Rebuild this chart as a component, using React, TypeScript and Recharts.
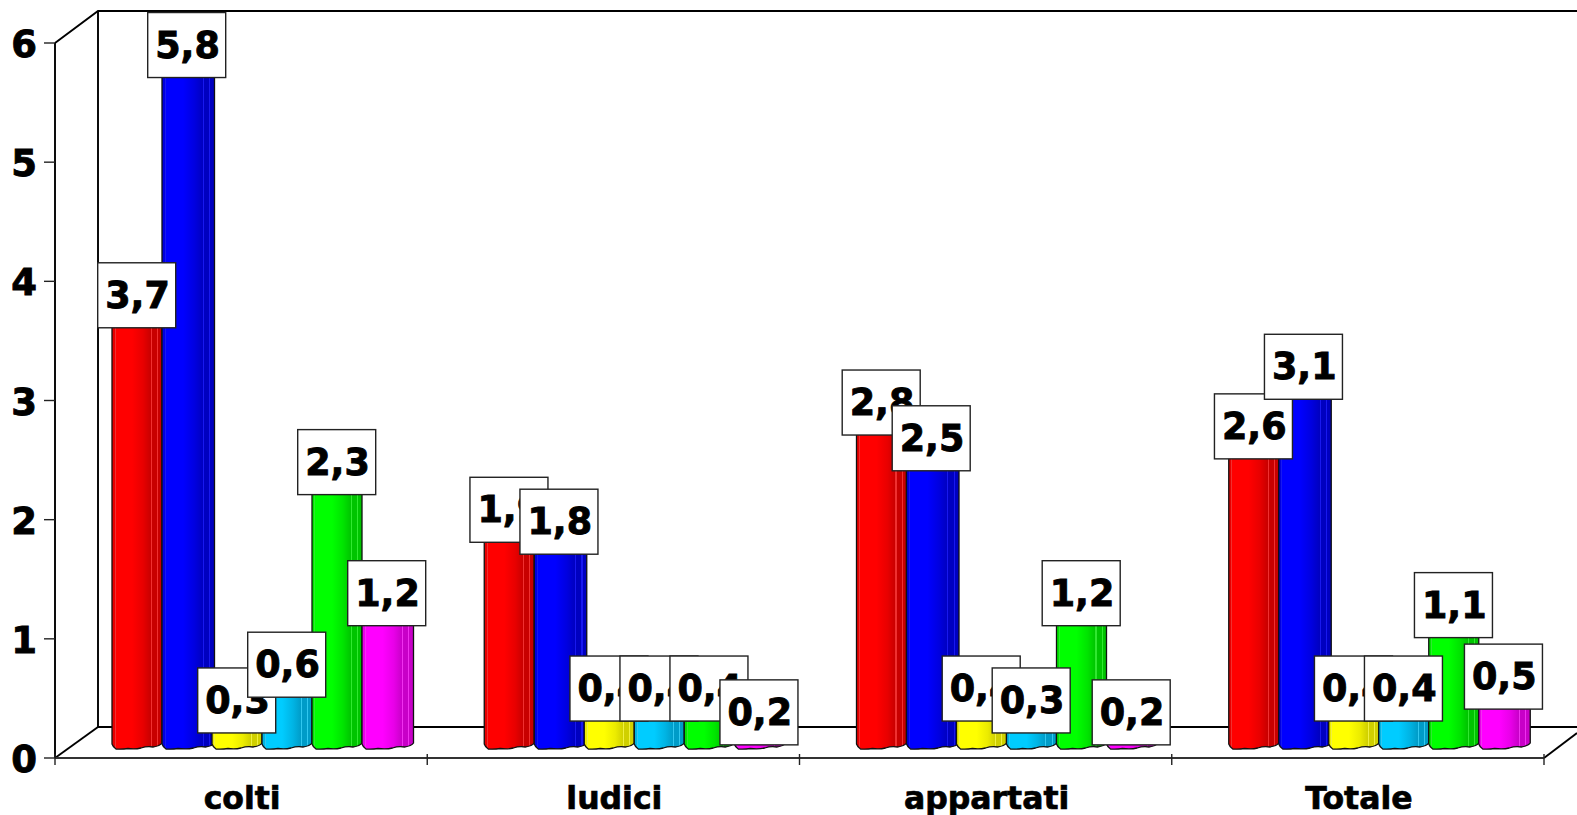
import React from 'react';
import { BarChart, Bar, XAxis, YAxis, LabelList } from 'recharts';

const categories = ['colti', 'ludici', 'appartati', 'Totale'];
const rosso = [3.7, 1.9, 2.8, 2.6];
const blu = [5.8, 1.8, 2.5, 3.1];
const giallo = [0.3, 0.4, 0.4, 0.4];
const azzurro = [0.6, 0.4, 0.3, 0.4];
const verde = [2.3, 0.4, 1.2, 1.1];
const magenta = [1.2, 0.2, 0.2, 0.5];
const yTicks = [0, 1, 2, 3, 4, 5, 6];

const data = categories.map((name, i) => ({
  name,
  rosso: rosso[i],
  blu: blu[i],
  giallo: giallo[i],
  azzurro: azzurro[i],
  verde: verde[i],
  magenta: magenta[i],
}));

const FONT = '"DejaVu Sans", Verdana, sans-serif';
const BAND = 372.25;

// pseudo 3D offsets, the bars stand halfway into the floor
const SHIFT_X = 20;
const SHIFT_Y = -21;

// bright, mid, dark tone and highlight stripe of each cylinder
const tones: Record<string, string[]> = {
  rosso: ['#ff0000', '#e80000', '#c80000', '#f03030'],
  blu: ['#0000ff', '#0000e0', '#0000c0', '#1818f0'],
  giallo: ['#ffff00', '#ecec00', '#d0d000', '#f0f040'],
  azzurro: ['#00ccff', '#00b4e4', '#009cc8', '#30c8f0'],
  verde: ['#00ff00', '#00e400', '#00c400', '#30e830'],
  magenta: ['#ff00ff', '#e800e8', '#c800c8', '#f030f0'],
};
const seriesKeys = Object.keys(tones);

const Cylinder = (props: any) => {
  const { x, y, width, height, dataKey } = props;
  const left = x + SHIFT_X;
  const right = left + width + (dataKey === 'blu' ? 2.5 : dataKey === 'magenta' ? 1.5 : 0);
  const top = y + SHIFT_Y;
  const bottom = y + height - 9;
  const d = [
    `M${left},${top}`,
    `L${right},${top}`,
    `L${right},${bottom - 6}`,
    `Q${right - 2},${bottom - 3} ${right - 9},${bottom - 2}`,
    `Q${right - 15},${bottom - 3} ${right - 21},${bottom - 1}`,
    `Q${right - 27},${bottom + 0.5} ${left + 16},${bottom - 0.5}`,
    `Q${left + 10},${bottom + 0.5} ${left + 4},${bottom}`,
    `Q${left + 1},${bottom - 2} ${left},${bottom - 5}`,
    'Z',
  ].join(' ');
  return <path d={d} fill={`url(#cyl-${dataKey})`} stroke="#111" strokeWidth={1.3} />;
};

const ValueBox = (props: any) => {
  const { x, y, width, value } = props;
  const cx = x + width / 2 + SHIFT_X - 0.3;
  const cy = y + SHIFT_Y - 0.8;
  return (
    <g>
      <rect x={cx - 39} y={cy - 32.5} width={78} height={65} fill="#fff" stroke="#222" strokeWidth={1.4} />
      <text
        x={cx + 0.8}
        y={cy + 12.5}
        textAnchor="middle"
        fontFamily={FONT}
        fontWeight="bold"
        fontSize={36.5}
        fill="#000"
        stroke="#000"
        strokeWidth={0.9}
      >
        {String(value).replace('.', ',')}
      </text>
    </g>
  );
};

const CategoryTick = (props: any) => {
  const { x, y, payload, index } = props;
  return (
    <g>
      <line x1={x - BAND / 2} y1={y - 10} x2={x - BAND / 2} y2={y + 1} stroke="#222" strokeWidth={1.4} />
      {index === categories.length - 1 && (
        <line x1={x + BAND / 2} y1={y - 10} x2={x + BAND / 2} y2={y + 1} stroke="#222" strokeWidth={1.4} />
      )}
      <text
        x={x + 1}
        y={y + 45}
        textAnchor="middle"
        fontFamily={FONT}
        fontWeight="bold"
        fontSize={31.5}
        fill="#000"
        stroke="#000"
        strokeWidth={0.7}
      >
        {payload.value}
      </text>
    </g>
  );
};

const ValueTick = (props: any) => {
  const { x, y, payload } = props;
  return (
    <text
      x={x - 1}
      y={y + 14}
      textAnchor="end"
      fontFamily={FONT}
      fontWeight="bold"
      fontSize={37}
      fill="#000"
      stroke="#000"
      strokeWidth={0.9}
    >
      {payload.value}
    </text>
  );
};

const Frame = () => (
  <g stroke="#000" strokeWidth={1.9} fill="none">
    <path d="M55,43 L98,11 L1577,11" />
    <path d="M98,11 L98,727 L1577,727" />
    <path d="M55,758 L98,727" />
    <path d="M1544,758 L1577,733" />
  </g>
);

const App = () => (
  <div style={{ position: 'absolute', left: 0, top: 0 }}>
    <BarChart
      width={1577}
      height={815}
      data={data}
      margin={{ top: 43, right: 33, bottom: 0, left: 0 }}
      barCategoryGap={37}
      barGap={0}
    >
      <defs>
        {seriesKeys.map((k) => (
          <linearGradient key={k} id={`cyl-${k}`} x1="0" y1="0" x2="1" y2="0">
            <stop offset="0" stopColor={tones[k][1]} />
            <stop offset="0.05" stopColor={tones[k][1]} />
            <stop offset="0.05" stopColor={tones[k][3]} />
            <stop offset="0.07" stopColor={tones[k][3]} />
            <stop offset="0.07" stopColor={tones[k][0]} />
            <stop offset="0.4" stopColor={tones[k][0]} />
            <stop offset="0.62" stopColor={tones[k][1]} />
            <stop offset="0.78" stopColor={tones[k][2]} />
            <stop offset="0.78" stopColor={tones[k][3]} />
            <stop offset="0.8" stopColor={tones[k][3]} />
            <stop offset="0.8" stopColor={tones[k][2]} />
            <stop offset="0.9" stopColor={tones[k][2]} />
            <stop offset="0.9" stopColor={tones[k][3]} />
            <stop offset="0.92" stopColor={tones[k][3]} />
            <stop offset="0.92" stopColor={tones[k][2]} />
            <stop offset="1" stopColor={tones[k][2]} />
          </linearGradient>
        ))}
      </defs>
      <Frame />
      <XAxis
        dataKey="name"
        height={57}
        axisLine={{ stroke: '#333', strokeWidth: 2 }}
        tickLine={false}
        tick={<CategoryTick />}
        interval={0}
        tickMargin={0}
      />
      <YAxis
        type="number"
        domain={[0, 6]}
        ticks={yTicks}
        width={55}
        axisLine={{ stroke: '#000', strokeWidth: 1.9 }}
        tickLine={{ stroke: '#222', strokeWidth: 1.4 }}
        tickSize={11}
        tickMargin={6}
        tick={<ValueTick />}
      />
      {seriesKeys.map((k) => (
        <Bar key={k} dataKey={k} shape={<Cylinder dataKey={k} />} isAnimationActive={false}>
          <LabelList dataKey={k} content={<ValueBox />} />
        </Bar>
      ))}
    </BarChart>
  </div>
);

export default App;
